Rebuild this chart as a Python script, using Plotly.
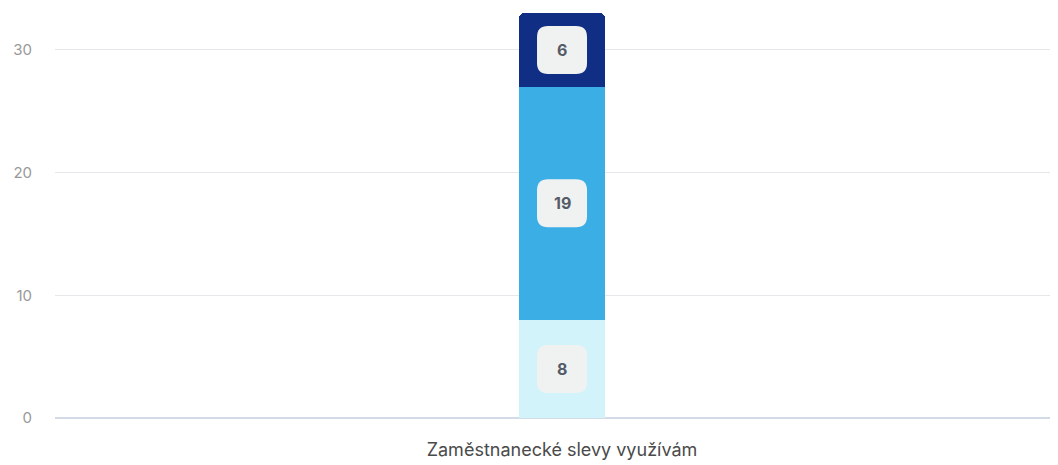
import plotly.graph_objects as go

categories = ["Zaměstnanecké slevy využívám"]
series_names = ["Segment 1", "Segment 2", "Segment 3"]
series_values = [[8], [19], [6]]
series_colors = ["#d2f3fa", "#3caee6", "#112e85"]
y_ticks = [0, 10, 20, 30]

fig = go.Figure()
for name, vals, col in zip(series_names, series_values, series_colors):
    fig.add_trace(go.Bar(
        x=categories, y=vals, name=name, marker=dict(color=col, line=dict(width=0)),
        width=0.0857, hoverinfo="skip", showlegend=False,
    ))

# label boxes (rounded) + annotations, positioned at segment centres
box_w, box_h, r = 50, 48, 11
hw, hh = box_w / 2, box_h / 2
path = (f"M {-hw+r},{-hh} L {hw-r},{-hh} Q {hw},{-hh} {hw},{-hh+r} "
        f"L {hw},{hh-r} Q {hw},{hh} {hw-r},{hh} L {-hw+r},{hh} Q {-hw},{hh} {-hw},{hh-r} "
        f"L {-hw},{-hh+r} Q {-hw},{-hh} {-hw+r},{-hh} Z")
cum = 0
for vals in series_values:
    v = vals[0]
    mid = cum + v / 2
    cum += v
    fig.add_shape(type="path", xref="x", yref="y", xsizemode="pixel", ysizemode="pixel",
                  xanchor=0, yanchor=mid, path=path,
                  fillcolor="#f0f2f2", line=dict(width=0), layer="above")
    fig.add_annotation(x=0, y=mid, xref="x", yref="y", text=f"<b>{v}</b>", showarrow=False,
                       font=dict(family="Inter", size=16, color="#555b66"))

fig.update_layout(
    width=1050, height=457,
    margin=dict(l=47, r=0, t=2, b=47),
    paper_bgcolor="white", plot_bgcolor="white",
    barmode="stack", barcornerradius=5,
    font=dict(family="Inter"),
    xaxis=dict(range=[-0.5055, 0.4945], showgrid=False, showline=False, ticks="",
               ticklabelstandoff=19,
               tickfont=dict(family="Inter", size=18, color="#4a4a4a")),
    yaxis=dict(range=[0, 33.26], tickvals=y_ticks, showgrid=True, gridcolor="#e5e7eb",
               gridwidth=1, zeroline=True, zerolinecolor="#d3dbe8", zerolinewidth=1.5,
               showline=False, ticks="", ticklabelstandoff=22,
               tickfont=dict(family="Inter", size=15, color="#999999")),
)

fig.write_html("out.html")
